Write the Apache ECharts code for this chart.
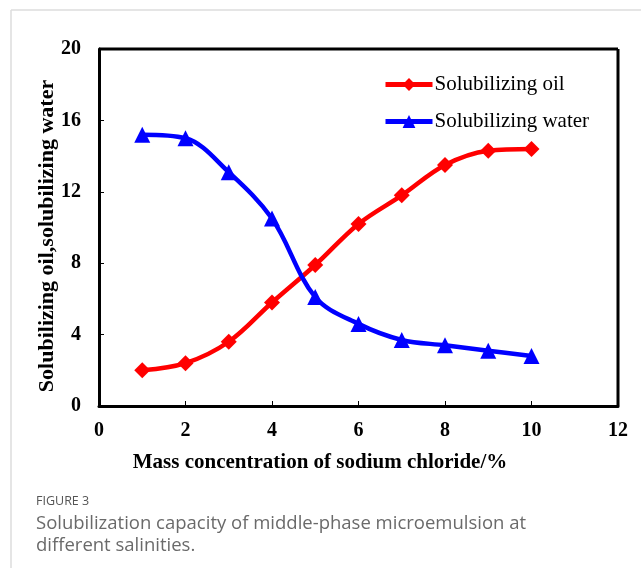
<!DOCTYPE html>
<html>
<head>
<meta charset="utf-8">
<script src="https://cdn.jsdelivr.net/npm/echarts@6/dist/echarts.min.js"></script>
<style>
html,body{margin:0;padding:0;background:#fff;}
#chart{width:641px;height:577px;}
</style>
</head>
<body>
<div id="chart"></div>
<script>
// Data
const salinity = [1, 2, 3, 4, 5, 6, 7, 8, 9, 10];
const solubilizingOil = [2.0, 2.4, 3.6, 5.8, 7.9, 10.2, 11.8, 13.5, 14.3, 14.4];
const solubilizingWater = [15.2, 15.0, 13.1, 10.5, 6.1, 4.6, 3.7, 3.4, 3.1, 2.8];
const xTicks = [0, 2, 4, 6, 8, 10, 12];
const yTicks = [0, 4, 8, 12, 16, 20];
const seriesNames = ['Solubilizing oil', 'Solubilizing water'];
const xTitle = 'Mass concentration of sodium chloride/%';
const yTitle = 'Solubilizing oil,solubilizing water';
const captionHead = 'FIGURE 3';
const captionLines = ['Solubilization capacity of middle-phase microemulsion at', 'different salinities.'];

const serif = '"Liberation Serif","Times New Roman",serif';
const chart = echarts.init(document.getElementById('chart'), null, {renderer: 'canvas'});

function pairs(xs, ys) { return xs.map((x, i) => [x, ys[i]]); }

const option = {
  animation: false,
  backgroundColor: '#fff',
  grid: {left: 99, top: 49, width: 519, height: 357, containLabel: false},
  legend: {
    left: 378, top: 69, orient: 'vertical', itemGap: 16,
    itemWidth: 47, itemHeight: 16,
    lineStyle: {width: 5},
    textStyle: {fontFamily: serif, fontSize: 21, color: '#000', padding: [0,0,0,-3]},
    data: seriesNames
  },
  xAxis: {
    type: 'value', min: xTicks[0], max: xTicks[xTicks.length-1], interval: 2,
    axisLine: {show: true, onZero: false, lineStyle: {color: '#000', width: 3}},
    axisTick: {show: true, inside: true, length: 5, lineStyle: {color: '#000', width: 1}},
    axisLabel: {fontFamily: serif, fontSize: 20, fontWeight: 'bold', color: '#000', margin: 15},
    splitLine: {show: false}
  },
  yAxis: {
    type: 'value', min: yTicks[0], max: yTicks[yTicks.length-1], interval: 4,
    axisLine: {show: true, onZero: false, lineStyle: {color: '#000', width: 3}},
    axisTick: {show: true, inside: true, length: 5, lineStyle: {color: '#000', width: 1}},
    axisLabel: {fontFamily: serif, fontSize: 20, fontWeight: 'bold', color: '#000', margin: 18},
    splitLine: {show: false}
  },
  series: [
    {
      name: seriesNames[0], type: 'line', smooth: 0.35,
      data: pairs(salinity, solubilizingOil),
      symbol: 'diamond', symbolSize: 16,
      lineStyle: {color: '#ff0000', width: 4.5},
      itemStyle: {color: '#ff0000'}
    },
    {
      name: seriesNames[1], type: 'line', smooth: 0.35,
      data: pairs(salinity, solubilizingWater),
      symbol: 'triangle', symbolSize: 16,
      lineStyle: {color: '#0000ff', width: 4.5},
      itemStyle: {color: '#0000ff'}
    }
  ],
  graphic: [
    {type: 'line', shape: {x1: 11, y1: 10, x2: 641, y2: 10}, style: {stroke: '#dcdcdc', lineWidth: 1.5}},
    {type: 'line', shape: {x1: 11, y1: 10, x2: 11, y2: 568}, style: {stroke: '#dcdcdc', lineWidth: 1.5}},
    {type: 'line', shape: {x1: 99, y1: 49, x2: 618, y2: 49}, style: {stroke: '#000', lineWidth: 3}},
    {type: 'line', shape: {x1: 618, y1: 49, x2: 618, y2: 406}, style: {stroke: '#000', lineWidth: 3}},
    {type: 'text', x: 47, y: 236, rotation: Math.PI / 2,
     style: {text: yTitle, font: 'bold 22px ' + serif, fill: '#000', align: 'center', verticalAlign: 'middle'}},
    {type: 'text', x: 320, y: 463,
     style: {text: xTitle, font: 'bold 21px ' + serif, fill: '#000', align: 'center', verticalAlign: 'middle'}},
    {type: 'text', left: 36, top: 495, style: {text: captionHead, font: '500 12.5px "Open Sans", sans-serif', fill: '#555'}},
    {type: 'text', left: 36, top: 513, style: {text: captionLines.join('\n'), font: '18.5px "Open Sans", sans-serif', fill: '#6a6a6a', lineHeight: 22}}
  ]
};
chart.setOption(option);
</script>
</body>
</html>
